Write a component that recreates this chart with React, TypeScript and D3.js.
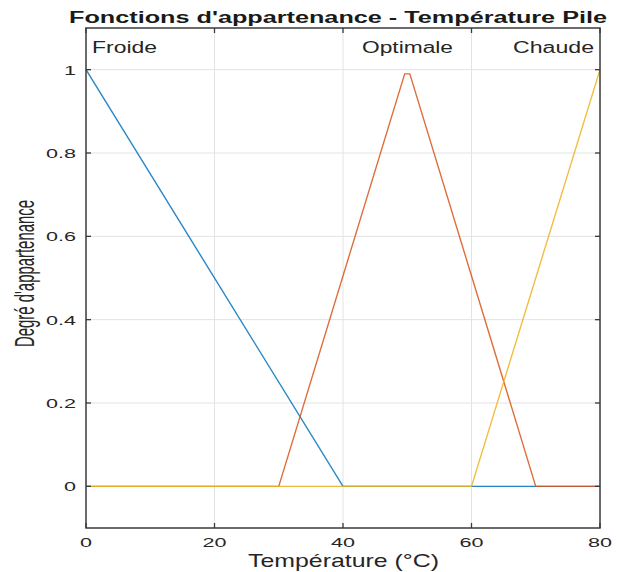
import React from "react";
import * as d3 from "d3";

const xTicks = [0, 20, 40, 60, 80];
const yTicks = [0, 0.2, 0.4, 0.6, 0.8, 1];
const froideX = [0, 40, 80];
const froideY = [1, 0, 0];
const optimaleX = [0, 30, 49.6, 50.4, 70, 80];
const optimaleY = [0, 0, 0.99, 0.99, 0, 0];
const chaudeX = [0, 60, 80];
const chaudeY = [0, 0, 1];
const seriesNames = ["Froide", "Optimale", "Chaude"];
const seriesColors = ["#0072BD", "#D95319", "#EDB120"];

function tickWidth(s: string) {
  let w = 0;
  for (const c of s) w += c === "." ? 6 : 12;
  return w;
}

export default function App() {
  const W = 619, H = 572;
  const L = 86, R = 600, T = 28, B = 528;
  const x = d3.scaleLinear().domain([0, 80]).range([L, R]);
  const y = d3.scaleLinear().domain([-0.1, 1.1]).range([B, T]);
  const line = d3.line<[number, number]>().x(d => x(d[0])).y(d => y(d[1]));
  const series = [
    d3.zip(froideX, froideY) as [number, number][],
    d3.zip(optimaleX, optimaleY) as [number, number][],
    d3.zip(chaudeX, chaudeY) as [number, number][],
  ];
  const font = "'Liberation Sans', Arial, Helvetica, sans-serif";
  const axisColor = "#3a3a3a";
  const textColor = "#262626";
  const labelPos = [
    { x: 92, anchor: "start", w: 65 },
    { x: 362, anchor: "start", w: 91 },
    { x: 513, anchor: "start", w: 81 },
  ];
  return (
    <svg width={W} height={H} style={{ position: "absolute", left: 0, top: 0 }} fontFamily={font}>
      <rect width={W} height={H} fill="#fff" />
      {xTicks.slice(1, -1).map(t => (
        <line key={"gx" + t} x1={x(t)} x2={x(t)} y1={T} y2={B} stroke="#e3e3e3" strokeWidth={1} />
      ))}
      {yTicks.map(t => (
        <line key={"gy" + t} x1={L} x2={R} y1={y(t)} y2={y(t)} stroke="#e3e3e3" strokeWidth={1} />
      ))}
      {series.map((s, i) => (
        <path key={i} d={line(s) || ""} fill="none" stroke={seriesColors[i]} strokeWidth={1.4} strokeOpacity={0.85} />
      ))}
      <rect x={L} y={T} width={R - L} height={B - T} fill="none" stroke={axisColor} strokeWidth={1.5} />
      {xTicks.map(t => (
        <g key={"tx" + t}>
          <line x1={x(t)} x2={x(t)} y1={B} y2={B - 5} stroke={axisColor} strokeWidth={1.3} />
          <line x1={x(t)} x2={x(t)} y1={T} y2={T + 5} stroke={axisColor} strokeWidth={1.3} />
          <text x={x(t)} y={547} textAnchor="middle" fontSize={13} fill={textColor}
            textLength={tickWidth(String(t))} lengthAdjust="spacingAndGlyphs">{t}</text>
        </g>
      ))}
      {yTicks.map(t => (
        <g key={"ty" + t}>
          <line x1={L} x2={L + 5} y1={y(t)} y2={y(t)} stroke={axisColor} strokeWidth={1.3} />
          <line x1={R} x2={R - 5} y1={y(t)} y2={y(t)} stroke={axisColor} strokeWidth={1.3} />
          <text x={76} y={y(t) + 5} textAnchor="end" fontSize={13} fill={textColor}
            textLength={tickWidth(String(t))} lengthAdjust="spacingAndGlyphs">{String(t)}</text>
        </g>
      ))}
      {seriesNames.map((n, i) => (
        <text key={n} x={labelPos[i].x} y={53} textAnchor={labelPos[i].anchor as any} fontSize={16} fill={textColor}
          textLength={labelPos[i].w} lengthAdjust="spacingAndGlyphs">{n}</text>
      ))}
      <text x={69} y={23} fontSize={16} fontWeight="bold" fill="#1a1a1a"
        textLength={538} lengthAdjust="spacingAndGlyphs">
        Fonctions d'appartenance - Température Pile
      </text>
      <text x={248} y={567} fontSize={19} fill={textColor}
        textLength={191} lengthAdjust="spacingAndGlyphs">Température (°C)</text>
      <text transform="translate(34,347) rotate(-90)" fontSize={28} fill={textColor}
        textLength={147} lengthAdjust="spacingAndGlyphs">Degré d'appartenance</text>
    </svg>
  );
}
